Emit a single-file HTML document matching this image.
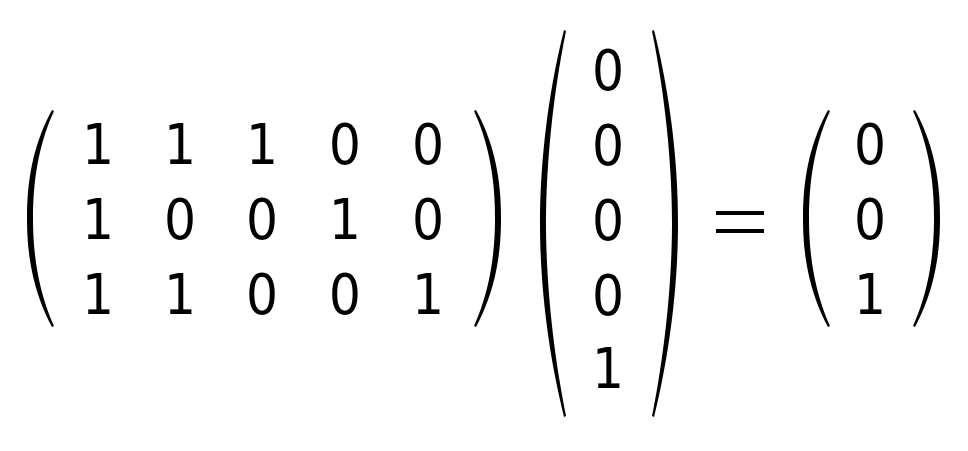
<!DOCTYPE html>
<html><head><style>html,body{margin:0;padding:0;background:#fff}</style></head>
<body>
<svg width="968" height="446" viewBox="0 0 968 446" xmlns="http://www.w3.org/2000/svg">
<defs>
<style>text{font-family:"DejaVu Sans","Liberation Sans",sans-serif;font-size:56px;fill:#000;text-anchor:middle}</style>
</defs>
<g fill="#000">
<path d="M52,110 C30,150 27,190 27,218 C27,246 30,286 52,327 L54,326 C36,286 33,246 33,218 C33,190 36,150 54,111 Z"/>
<path d="M476,110 C498,150 501,190 501,218 C501,246 498,286 476,327 L474,326 C492,286 495,246 495,218 C495,190 492,150 474,111 Z"/>
<path d="M564,30 C544,110 540,180 540,223 C540,266 544,336 564,417 L566,416 C550,336 546,266 546,223 C546,180 550,110 566,31 Z"/>
<path d="M654,30 C674,110 678,180 678,223 C678,266 674,336 654,417 L652,416 C668,336 672,266 672,223 C672,180 668,110 652,31 Z"/>
<path d="M828,110 C806,150 803,190 803,218 C803,246 806,286 828,327 L830,326 C812,286 809,246 809,218 C809,190 812,150 830,111 Z"/>
<path d="M915,110 C937,150 940,190 940,218 C940,246 937,286 915,327 L913,326 C931,286 934,246 934,218 C934,190 931,150 913,111 Z"/>
<rect x="716" y="211" width="48" height="4"/>
<rect x="716" y="229" width="48" height="4"/>
</g>
<g transform="scale(0.9,1)">
<text x="108.9" y="164">1</text><text x="200" y="164">1</text><text x="291.1" y="164">1</text><text x="383.3" y="164">0</text><text x="475.6" y="164">0</text>
<text x="108.9" y="239">1</text><text x="200" y="239">0</text><text x="291.1" y="239">0</text><text x="383.3" y="239">1</text><text x="475.6" y="239">0</text>
<text x="108.9" y="314">1</text><text x="200" y="314">1</text><text x="291.1" y="314">0</text><text x="383.3" y="314">0</text><text x="475.6" y="314">1</text>
<text x="675.6" y="90">0</text><text x="675.6" y="165">0</text><text x="675.6" y="240">0</text><text x="675.6" y="315">0</text><text x="675.6" y="388">1</text>
<text x="966.7" y="164">0</text><text x="966.7" y="239">0</text><text x="966.7" y="314">1</text>
</g>
</svg>
</body></html>
